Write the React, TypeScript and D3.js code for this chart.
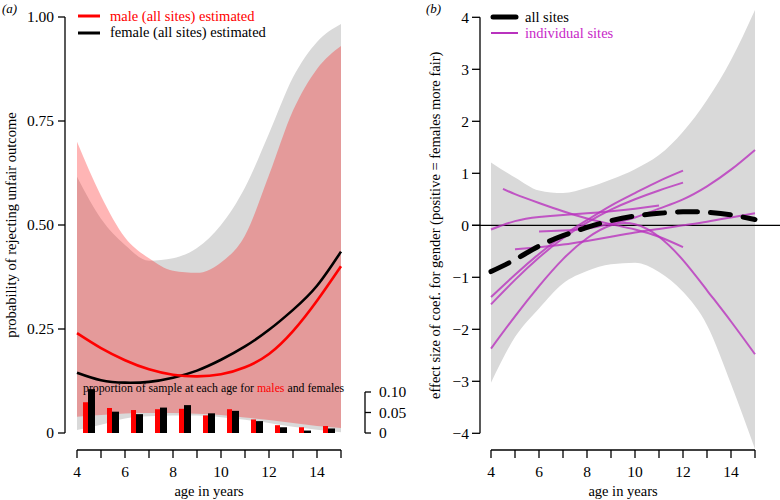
import React from "react";
import * as d3 from "d3";

// ---------- Panel (a) data ----------
const ages = [4, 5, 6, 7, 8, 9, 10, 11, 12, 13, 14, 15];
const femaleMean = [0.145, 0.127, 0.121, 0.123, 0.133, 0.15, 0.176, 0.208, 0.248, 0.296, 0.354, 0.436];
const maleMean = [0.24, 0.204, 0.175, 0.153, 0.14, 0.136, 0.141, 0.158, 0.19, 0.245, 0.318, 0.401];
const femaleUpper = [0.616, 0.515, 0.452, 0.414, 0.42, 0.445, 0.5, 0.59, 0.72, 0.855, 0.94, 0.983];
const femaleLower = [0.007, 0.02, 0.035, 0.04, 0.042, 0.042, 0.038, 0.032, 0.024, 0.015, 0.008, 0.002];
const maleUpper = [0.7, 0.57, 0.47, 0.42, 0.39, 0.385, 0.41, 0.475, 0.62, 0.775, 0.875, 0.93];
const maleLower = [0.039, 0.043, 0.047, 0.048, 0.048, 0.046, 0.043, 0.037, 0.031, 0.024, 0.017, 0.012];

const barAges = [4.5, 5.5, 6.5, 7.5, 8.5, 9.5, 10.5, 11.5, 12.5, 13.5, 14.5];
const maleProp = [0.075, 0.061, 0.056, 0.058, 0.059, 0.043, 0.058, 0.033, 0.019, 0.014, 0.017];
const femaleProp = [0.107, 0.052, 0.046, 0.062, 0.068, 0.048, 0.054, 0.029, 0.014, 0.006, 0.011];

const yTicksA = [0, 0.25, 0.5, 0.75, 1];
const yTickLabelsA = ["0", "0.25", "0.50", "0.75", "1.00"];
const propTicks = [0, 0.05, 0.1];
const propTickLabels = ["0", "0.05", "0.10"];
const xTicks = [4, 5, 6, 7, 8, 9, 10, 11, 12, 13, 14, 15];
const xTickLabels = [4, 6, 8, 10, 12, 14];

// ---------- Panel (b) data ----------
const bandUpper = [1.21, 0.92, 0.67, 0.62, 0.72, 0.88, 1.08, 1.35, 1.8, 2.41, 3.18, 4.14];
const bandLower = [-3.03, -2.15, -1.6, -1.12, -0.88, -0.75, -0.72, -0.9, -1.28, -1.92, -3.05, -4.3];
const allSites = [-0.89, -0.66, -0.4, -0.2, -0.04, 0.09, 0.18, 0.23, 0.26, 0.25, 0.2, 0.11];

const siteStartAges = [4, 4.5, 4, 4, 4, 5, 6];
const site1 = [-0.08, 0.08, 0.16, 0.2, 0.23, 0.27, 0.32, 0.38];
const site2 = [0.7, 0.6, 0.43, 0.27, 0.13, 0.02, -0.08, -0.22, -0.42];
const site3 = [-1.38, -0.95, -0.55, -0.2, 0.1, 0.38, 0.62, 0.85, 1.05];
const site4 = [-1.52, -1.05, -0.62, -0.25, 0.05, 0.3, 0.5, 0.67, 0.82];
const site5 = [-2.37, -1.75, -1.17, -0.65, -0.25, 0.0, 0.02, -0.22, -0.67, -1.25, -1.85, -2.48];
const site6 = [-0.46, -0.42, -0.37, -0.3, -0.22, -0.14, -0.07, 0.0, 0.07, 0.15, 0.23];
const site7 = [-0.12, -0.1, -0.06, 0.03, 0.15, 0.32, 0.5, 0.75, 1.07, 1.45];
const siteValues = [site1, site2, site3, site4, site5, site6, site7];

const yTicksB = [-4, -3, -2, -1, 0, 1, 2, 3, 4];

const FONT = "'Liberation Serif', 'Times New Roman', 'DejaVu Serif', serif";
const MAGENTA = "rgb(185,50,190)";

function siteAgesFor(start: number, n: number) {
  const out: number[] = [start];
  let a = Math.floor(start) + 1;
  while (out.length < n) {
    out.push(a);
    a += 1;
  }
  return out;
}

export default function App() {
  const xA = d3.scaleLinear().domain([4, 15]).range([77, 341]);
  const yA = d3.scaleLinear().domain([0, 1]).range([433, 17]);
  const yP = d3.scaleLinear().domain([0, 0.1]).range([433, 392]);

  const xB = d3.scaleLinear().domain([4, 15]).range([491, 755]);
  const yB = d3.scaleLinear().domain([-4, 4]).range([433.3, 17.3]);

  const curve = d3.curveNatural;

  const areaA = (lo: number[], hi: number[]) =>
    d3
      .area<number>()
      .x((_, i) => xA(ages[i]))
      .y0((_, i) => yA(lo[i]))
      .y1((_, i) => yA(hi[i]))
      .curve(d3.curveMonotoneX)(ages) as string;

  const lineA = (vals: number[]) =>
    d3
      .line<number>()
      .x((_, i) => xA(ages[i]))
      .y((d) => yA(d))
      .curve(curve)(vals) as string;

  const areaB = d3
    .area<number>()
    .x((_, i) => xB(ages[i]))
    .y0((_, i) => yB(bandLower[i]))
    .y1((_, i) => yB(bandUpper[i]))
    .curve(d3.curveMonotoneX)(ages) as string;

  const lineB = (xs: number[], vals: number[]) =>
    d3
      .line<number>()
      .x((_, i) => xB(xs[i]))
      .y((d) => yB(d))
      .curve(curve)(vals) as string;

  const tickFont = 15.5;

  return (
    <svg width={780} height={500} style={{ position: "absolute", left: 0, top: 0, fontFamily: FONT }}>
      <rect x={0} y={0} width={780} height={500} fill="#fff" />

      {/* ================= Panel (a) ================= */}
      <text x={2} y={13} fontSize={13} fontStyle="italic">(a)</text>

      <path d={areaA(femaleLower, femaleUpper)} fill="#d9d9d9" />
      <path d={areaA(maleLower, maleUpper)} fill="rgb(255,0,0)" fillOpacity={0.29} />

      <path d={lineA(femaleMean)} fill="none" stroke="#000" strokeWidth={2.6} />
      <path d={lineA(maleMean)} fill="none" stroke="#ff0000" strokeWidth={2.6} />

      {barAges.map((a, i) => (
        <g key={"bar" + i}>
          <rect x={xA(a) - 6} y={yP(maleProp[i])} width={5} height={yP(0) - yP(maleProp[i])} fill="#ff0000" />
          <rect x={xA(a) - 1} y={yP(femaleProp[i])} width={7} height={yP(0) - yP(femaleProp[i])} fill="#000" />
        </g>
      ))}

      <text x={83} y={392} fontSize={11.8} fill="#000">
        proportion of sample at each age for <tspan fill="#ff0000">males</tspan> and females
      </text>

      {/* y axis a */}
      <line x1={65} x2={65} y1={yA(0)} y2={yA(1)} stroke="#000" strokeWidth={1.3} />
      {yTicksA.map((t, i) => (
        <g key={"ya" + i}>
          <line x1={58} x2={65} y1={yA(t)} y2={yA(t)} stroke="#000" strokeWidth={1.3} />
          <text x={54} y={yA(t)} dy="0.35em" textAnchor="end" fontSize={tickFont}>{yTickLabelsA[i]}</text>
        </g>
      ))}
      <text transform={`translate(16,${(yA(0) + yA(1)) / 2}) rotate(-90)`} textAnchor="middle" fontSize={14.5}>
        probability of rejecting unfair outcome
      </text>

      {/* secondary axis for proportions */}
      <line x1={365} x2={365} y1={yP(0)} y2={yP(0.1)} stroke="#000" strokeWidth={1.3} />
      {propTicks.map((t, i) => (
        <g key={"yp" + i}>
          <line x1={365} x2={371} y1={yP(t)} y2={yP(t)} stroke="#000" strokeWidth={1.3} />
          <text x={379} y={yP(t)} dy="0.35em" fontSize={tickFont}>{propTickLabels[i]}</text>
        </g>
      ))}

      {/* x axis a */}
      <line x1={xA(4)} x2={xA(15)} y1={450} y2={450} stroke="#000" strokeWidth={1.3} />
      {xTicks.map((t) => (
        <line key={"xta" + t} x1={xA(t)} x2={xA(t)} y1={450} y2={458} stroke="#000" strokeWidth={1.3} />
      ))}
      {xTickLabels.map((t) => (
        <text key={"xla" + t} x={xA(t)} y={477} textAnchor="middle" fontSize={tickFont}>{t}</text>
      ))}
      <text x={(xA(4) + xA(15)) / 2} y={496} textAnchor="middle" fontSize={14.5}>age in years</text>

      {/* legend a */}
      <line x1={78} x2={100} y1={16} y2={16} stroke="#ff0000" strokeWidth={3} />
      <text x={110} y={21} fontSize={14.5} fill="#ff0000">male (all sites) estimated</text>
      <line x1={78} x2={100} y1={33} y2={33} stroke="#000" strokeWidth={3} />
      <text x={110} y={37} fontSize={14.5} fill="#000">female (all sites) estimated</text>

      {/* ================= Panel (b) ================= */}
      <text x={426} y={13} fontSize={13} fontStyle="italic">(b)</text>

      <path d={areaB} fill="#d9d9d9" />
      <line x1={472} x2={780} y1={yB(0)} y2={yB(0)} stroke="#000" strokeWidth={1.2} />

      {siteValues.map((vals, i) => (
        <path
          key={"site" + i}
          d={lineB(siteAgesFor(siteStartAges[i], vals.length), vals)}
          fill="none"
          stroke={MAGENTA}
          strokeOpacity={0.8}
          strokeWidth={2}
        />
      ))}

      <path
        d={lineB(ages, allSites)}
        fill="none"
        stroke="#000"
        strokeWidth={5}
        strokeLinecap="round"
        strokeDasharray="20 13"
      />

      {/* y axis b */}
      <line x1={480} x2={480} y1={yB(-4)} y2={yB(4)} stroke="#000" strokeWidth={1.3} />
      {yTicksB.map((t) => (
        <g key={"yb" + t}>
          <line x1={472} x2={480} y1={yB(t)} y2={yB(t)} stroke="#000" strokeWidth={1.3} />
          <text x={469} y={yB(t)} dy="0.35em" textAnchor="end" fontSize={tickFont}>
            {t < 0 ? "\u2212" + Math.abs(t) : String(t)}
          </text>
        </g>
      ))}
      <text transform={`translate(440,${(yB(-4) + yB(4)) / 2}) rotate(-90)`} textAnchor="middle" fontSize={14.5}>
        effect size of coef. for gender (positive = females more fair)
      </text>

      {/* x axis b */}
      <line x1={xB(4)} x2={xB(15)} y1={450} y2={450} stroke="#000" strokeWidth={1.3} />
      {xTicks.map((t) => (
        <line key={"xtb" + t} x1={xB(t)} x2={xB(t)} y1={450} y2={458} stroke="#000" strokeWidth={1.3} />
      ))}
      {xTickLabels.map((t) => (
        <text key={"xlb" + t} x={xB(t)} y={477} textAnchor="middle" fontSize={tickFont}>{t}</text>
      ))}
      <text x={(xB(4) + xB(15)) / 2} y={496} textAnchor="middle" fontSize={14.5}>age in years</text>

      {/* legend b */}
      <line x1={493} x2={516} y1={17} y2={17} stroke="#000" strokeWidth={5} strokeLinecap="round" />
      <text x={525} y={22} fontSize={14.5}>all sites</text>
      <line x1={491} x2={518} y1={33} y2={33} stroke={MAGENTA} strokeWidth={2} />
      <text x={525} y={38} fontSize={14.5} fill="rgb(200,40,200)">individual sites</text>
    </svg>
  );
}
